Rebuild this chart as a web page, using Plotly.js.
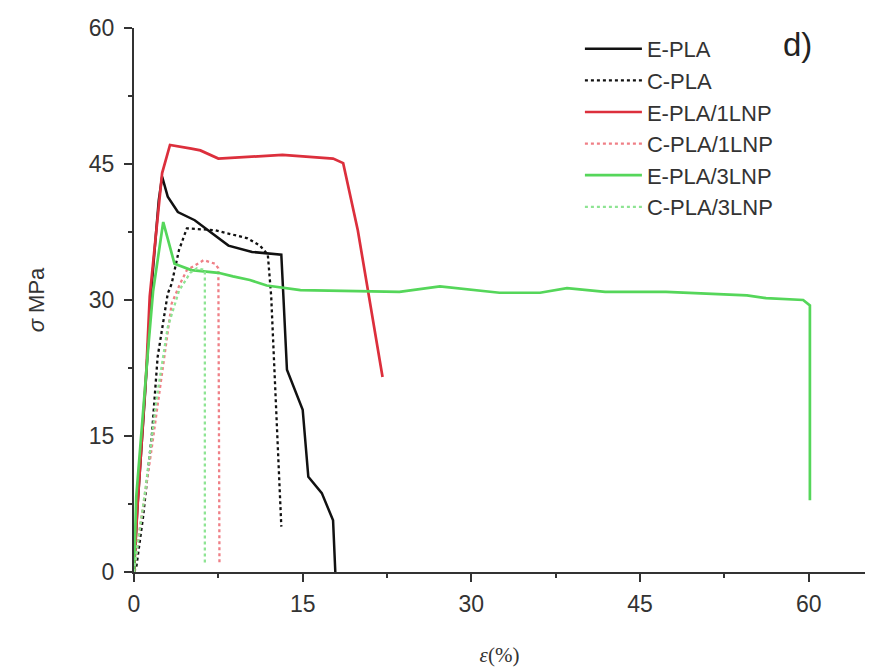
<!DOCTYPE html>
<html>
<head>
<meta charset="utf-8">
<script src="https://cdn.plot.ly/plotly-3.0.1.min.js"></script>
<style>html,body{margin:0;padding:0;background:#fff;}#chart{width:869px;height:670px;}</style>
</head>
<body>
<div id="chart"></div>
<script>
// ---- data (strain %, stress MPa) ----
const seriesNames = ["E-PLA", "C-PLA", "E-PLA/1LNP", "C-PLA/1LNP", "E-PLA/3LNP", "C-PLA/3LNP"];

const ePLA_x = [0, 0.3, 1.0, 1.6, 2.2, 2.5, 3.0, 3.9, 5.4, 6.9, 8.4, 10.5, 12.0, 13.1, 13.3, 13.6, 15.0, 15.5, 16.7, 17.7, 17.9];
const ePLA_y = [0, 7, 20, 32, 41, 43.6, 41.4, 39.7, 38.8, 37.4, 36.0, 35.3, 35.1, 35.0, 30.0, 22.3, 17.9, 10.5, 8.7, 5.7, 0];

const cPLA_x = [0, 0.2, 0.8, 1.6, 2.1, 3.0, 3.35, 4.0, 4.7, 7.2, 10.1, 11.2, 11.9, 12.2, 13.1];
const cPLA_y = [0, 0.5, 6, 15.3, 23.7, 30.7, 31.8, 35.5, 37.9, 37.7, 36.8, 36.0, 35.0, 30.4, 5.0];

const e1LNP_x = [0, 0.3, 1.1, 1.4, 2.5, 3.2, 5.1, 5.9, 7.5, 10.3, 13.2, 17.7, 18.6, 19.9, 22.1];
const e1LNP_y = [0, 7, 22.3, 30.4, 44.0, 47.1, 46.7, 46.5, 45.6, 45.8, 46.0, 45.6, 45.1, 37.7, 21.5];

const c1LNP_x = [0, 0.3, 1.5, 2.5, 3.35, 4.1, 4.7, 5.4, 6.2, 7.2, 7.5, 7.6];
const c1LNP_y = [0, 3, 13, 22, 29.6, 31.8, 33.3, 33.8, 34.4, 34.0, 33.5, 0.8];

const e3LNP_x = [0, 0.2, 1.25, 1.7, 2.6, 3.6, 5.1, 7.5, 8.8, 10.3, 11.8, 14.8, 23.6, 27.2, 32.5, 36.1, 38.5, 41.9, 47.3, 54.5, 56.2, 59.5, 60.1, 60.1];
const e3LNP_y = [0, 8.3, 24.5, 31.0, 38.6, 34.0, 33.3, 33.0, 32.6, 32.2, 31.6, 31.1, 30.9, 31.5, 30.8, 30.8, 31.3, 30.9, 30.9, 30.5, 30.2, 30.0, 29.4, 7.9];

const c3LNP_x = [0, 1.0, 2.0, 3.0, 4.0, 5.0, 5.6, 6.3, 6.3];
const c3LNP_y = [0, 9, 19, 27, 31, 33, 33.5, 33.3, 0.8];

const xTicks = [0, 15, 30, 45, 60];
const yTicks = [0, 15, 30, 45, 60];

// ---- styles ----
const colors = ["#111111", "#111111", "#dc2f3c", "#ef7f86", "#55d65a", "#8ee493"];
const dashes = ["solid", "dot", "solid", "dot", "solid", "dot"];
const widths = [2.5, 2.3, 2.7, 2.3, 2.7, 2.3];

const xs = [ePLA_x, cPLA_x, e1LNP_x, c1LNP_x, e3LNP_x, c3LNP_x];
const ys = [ePLA_y, cPLA_y, e1LNP_y, c1LNP_y, e3LNP_y, c3LNP_y];

const traces = seriesNames.map((n, i) => ({
  type: "scatter", mode: "lines", name: n,
  x: xs[i], y: ys[i],
  line: {color: colors[i], dash: dashes[i], width: widths[i]}
}));

const sans = "Liberation Sans, Arial, sans-serif";
const axisFont = {family: sans, size: 23, color: "#333"};

const layout = {
  width: 869, height: 670,
  margin: {l: 134, r: 4, t: 28, b: 98},
  paper_bgcolor: "#fff", plot_bgcolor: "#fff",
  showlegend: true,
  legend: {
    x: 0.61, y: 1.0, xanchor: "left", yanchor: "top",
    font: {family: sans, size: 22, color: "#333"},
    bgcolor: "rgba(0,0,0,0)", itemwidth: 57
  },
  xaxis: {
    range: [0, 65], tickvals: xTicks, ticktext: xTicks.map(String),
    showgrid: false, zeroline: false, showline: true, linecolor: "#333", linewidth: 2,
    ticks: "outside", ticklen: 8, tickwidth: 2, tickcolor: "#333",
    minor: {dtick: 7.5, tick0: 0, ticks: "outside", ticklen: 4, tickwidth: 2, tickcolor: "#333"},
    tickfont: axisFont, ticklabelstandoff: 2,
    title: {text: "<i>ε</i>(%)", font: {family: "Liberation Serif, serif", size: 21, color: "#333"}, standoff: 32}
  },
  yaxis: {
    range: [0, 60], tickvals: yTicks, ticktext: yTicks.map(String),
    showgrid: false, zeroline: false, showline: true, linecolor: "#333", linewidth: 2,
    ticks: "outside", ticklen: 8, tickwidth: 2, tickcolor: "#333",
    minor: {dtick: 7.5, tick0: 0, ticks: "outside", ticklen: 4, tickwidth: 2, tickcolor: "#333"},
    tickfont: axisFont, ticklabelstandoff: 5,
    title: {text: "<i>σ</i> MPa", font: {family: sans, size: 22, color: "#333"}, standoff: 38}
  },
  annotations: [{
    xref: "paper", yref: "paper", x: 0.907, y: 0.969, xanchor: "center", yanchor: "middle",
    text: "d)", showarrow: false,
    font: {family: sans, size: 33, color: "#222"}
  }]
};

Plotly.newPlot("chart", traces, layout, {displayModeBar: false, staticPlot: true});
</script>
</body>
</html>
